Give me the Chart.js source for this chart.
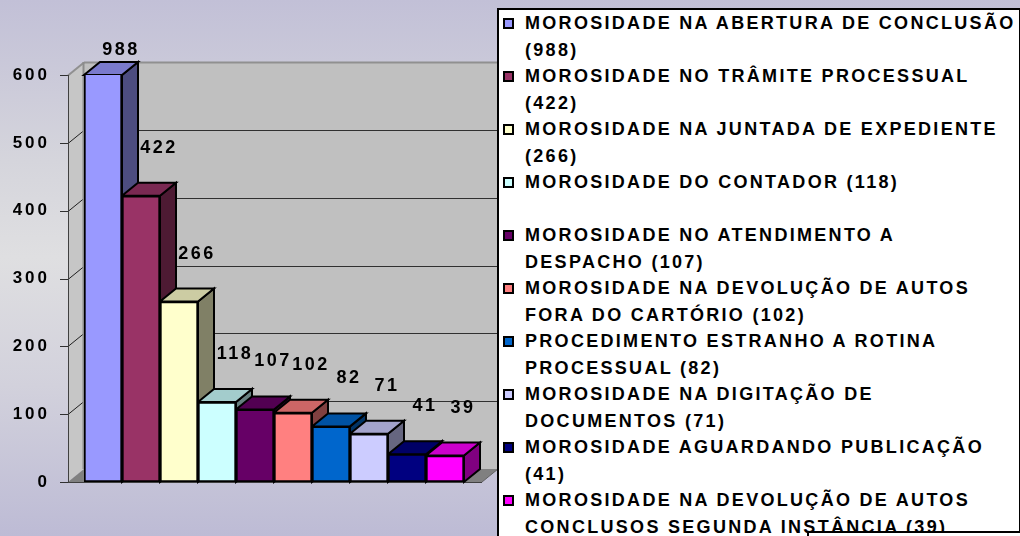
<!DOCTYPE html>
<html>
<head>
<meta charset="utf-8">
<script src="https://cdn.jsdelivr.net/npm/chart.js@4.4.0/dist/chart.umd.min.js"></script>
<style>
  body { margin: 0; }
  #fundo {
    position: relative; width: 1020px; height: 536px; overflow: hidden;
    background: linear-gradient(180deg, #c2c0d7 0%, #d5d5dc 30%, #dfdfe1 48%, #d2d1dc 72%, #bdbbd5 100%);
    font-family: "Liberation Sans", Arial, sans-serif;
  }
  #grafico { position: absolute; left: 0; top: 0; width: 1020px; height: 536px; }
  #legenda {
    position: absolute; left: 497px; top: 8px; width: 523px; height: 560px;
    box-sizing: border-box; background: #fff;
    border-left: 2px solid #000; border-top: 2px solid #000; border-right: 1px solid #000;
  }
  #legenda .item {
    position: relative; height: 53px; padding-left: 26px; padding-right: 2px;
    font-weight: bold; font-size: 18px; letter-spacing: 2.3px; line-height: 26.5px; color: #000;
  }
  #legenda .marca {
    position: absolute; left: 4px; top: 8px; width: 11px; height: 11px;
    box-sizing: border-box; border: 2px solid #000;
  }
  #caixa {
    position: absolute; left: 807px; top: 531px; width: 220px; height: 20px;
    background: #fff; border-left: 2px solid #000; border-top: 2px solid #000;
  }
</style>
</head>
<body>
<div id="fundo">
  <div id="grafico"><canvas id="myChart"></canvas></div>
  <div id="legenda"></div>
  <div id="caixa"></div>
</div>
<script>
// dados do grafico
const categorias = [
  'MOROSIDADE NA ABERTURA DE CONCLUSÃO',
  'MOROSIDADE NO TRÂMITE PROCESSUAL',
  'MOROSIDADE NA JUNTADA DE EXPEDIENTE',
  'MOROSIDADE DO CONTADOR',
  'MOROSIDADE NO ATENDIMENTO A DESPACHO',
  'MOROSIDADE NA DEVOLUÇÃO DE AUTOS FORA DO CARTÓRIO',
  'PROCEDIMENTO ESTRANHO A ROTINA PROCESSUAL',
  'MOROSIDADE NA DIGITAÇÃO DE DOCUMENTOS',
  'MOROSIDADE AGUARDANDO PUBLICAÇÃO',
  'MOROSIDADE NA DEVOLUÇÃO DE AUTOS CONCLUSOS SEGUNDA INSTÂNCIA'
];
const valores = [988, 422, 266, 118, 107, 102, 82, 71, 41, 39];
const ticksY = [0, 100, 200, 300, 400, 500, 600];

// cores das barras (face da frente)
const cores = ['#9999ff', '#993366', '#ffffcc', '#ccffff', '#660066',
               '#ff8080', '#0066cc', '#ccccff', '#000080', '#ff00ff'];

// profundidade do efeito 3d
const DX = 16, DY = 13;

function sombra(hex, f) {
  const n = parseInt(hex.slice(1), 16);
  const r = Math.round(((n >> 16) & 255) * f);
  const g = Math.round(((n >> 8) & 255) * f);
  const b = Math.round((n & 255) * f);
  return `rgb(${r},${g},${b})`;
}

function poligono(ctx, pts, fill, stroke, lw) {
  ctx.beginPath();
  ctx.moveTo(pts[0][0], pts[0][1]);
  for (let i = 1; i < pts.length; i++) ctx.lineTo(pts[i][0], pts[i][1]);
  ctx.closePath();
  if (fill) { ctx.fillStyle = fill; ctx.fill(); }
  if (stroke) { ctx.strokeStyle = stroke; ctx.lineWidth = lw || 1; ctx.stroke(); }
}

function linha(ctx, x1, y1, x2, y2, cor, lw) {
  ctx.beginPath();
  ctx.moveTo(x1, y1);
  ctx.lineTo(x2, y2);
  ctx.strokeStyle = cor;
  ctx.lineWidth = lw;
  ctx.stroke();
}

const efeito3d = {
  id: 'efeito3d',
  beforeDraw(chart) {
    chart.ctx.letterSpacing = '3px';
  },
  beforeDatasetsDraw(chart) {
    const ctx = chart.ctx;
    const a = chart.chartArea;
    const y = chart.scales.y;
    const frente = a.left - DX;      // eixo da frente
    const direita = a.right + 18;    // fim do piso
    ctx.save();

    // parede do fundo
    ctx.fillStyle = '#c0c0c0';
    ctx.fillRect(a.left, a.top - DY, direita + DX - a.left, a.bottom - a.top);
    // parede lateral
    poligono(ctx, [[frente, a.top], [a.left, a.top - DY], [a.left, a.bottom - DY], [frente, a.bottom]], '#c6c6c6');
    // piso
    poligono(ctx, [[frente, a.bottom], [direita, a.bottom], [direita + DX, a.bottom - DY], [a.left, a.bottom - DY]], '#808080');

    // linhas de grade
    y.ticks.forEach(t => {
      const py = Math.round(y.getPixelForValue(t.value)) + 0.5;
      linha(ctx, frente - 8, py, frente, py, '#303030', 1);
      if (t.value === 0) return;
      if (t.value === y.max) {
        linha(ctx, frente, py, a.left, py - DY, '#909090', 2);
        linha(ctx, a.left, py - DY, direita + DX, py - DY, '#909090', 2);
      } else {
        linha(ctx, frente, py, a.left, py - DY, '#202020', 1);
        linha(ctx, a.left, py - DY, direita + DX, py - DY, '#303030', 1);
      }
    });
    // arestas
    linha(ctx, a.left - 0.5, a.top - DY, a.left - 0.5, a.bottom - DY, '#8c8c8c', 2);
    linha(ctx, frente + 0.5, a.top, frente + 0.5, a.bottom, '#404040', 1);
    linha(ctx, frente, a.bottom + 0.5, direita, a.bottom + 0.5, '#404040', 1);
    linha(ctx, direita, a.bottom, direita + DX, a.bottom - DY, '#606060', 1);

    // faces lateral e superior das barras
    const meta = chart.getDatasetMeta(0);
    meta.data.forEach((barra, i) => {
      const topo = Math.max(barra.y, a.top);
      const e = barra.x - barra.width / 2;
      const d = barra.x + barra.width / 2;
      poligono(ctx, [[d, topo], [d + DX, topo - DY], [d + DX, barra.base - DY], [d, barra.base]],
        sombra(cores[i], 0.5), '#000', 2);
      poligono(ctx, [[e, topo], [d, topo], [d + DX, topo - DY], [e + DX, topo - DY]],
        sombra(cores[i], 0.8), '#000', 2);
    });
    ctx.restore();
  },
  afterDatasetsDraw(chart) {
    // rotulos de valor
    const ctx = chart.ctx;
    const a = chart.chartArea;
    const meta = chart.getDatasetMeta(0);
    ctx.save();
    ctx.letterSpacing = '2.5px';
    ctx.font = 'bold 18px "Liberation Sans", Arial, sans-serif';
    ctx.fillStyle = '#000';
    ctx.textAlign = 'center';
    ctx.textBaseline = 'middle';
    meta.data.forEach((barra, i) => {
      const py = barra.y < a.top ? a.top - 25 : barra.y - 48;
      ctx.fillText(String(valores[i]), barra.x + 18, py);
    });
    ctx.restore();
  }
};

const data = {
  labels: categorias,
  datasets: [{
    data: valores,
    backgroundColor: cores,
    borderColor: '#000',
    borderWidth: 2,
    borderSkipped: false,
    categoryPercentage: 1,
    barPercentage: 1
  }]
};

const config = {
  type: 'bar',
  data: data,
  options: {
    responsive: true,
    maintainAspectRatio: false,
    animation: false,
    layout: { padding: { left: 0, top: 75, right: 556, bottom: 54 } },
    plugins: { legend: { display: false }, tooltip: { enabled: false } },
    scales: {
      x: { display: false },
      y: {
        min: 0,
        max: 600,
        afterFit: s => { s.width = 84; },
        afterBuildTicks: s => { s.ticks = ticksY.map(v => ({ value: v })); },
        border: { display: false },
        grid: { display: false, drawTicks: false },
        ticks: {
          color: '#000',
          padding: 34,
          font: { family: '"Liberation Sans", Arial, sans-serif', size: 17, weight: 'bold' }
        }
      }
    }
  },
  plugins: [efeito3d]
};

const myChart = new Chart(document.getElementById('myChart'), config);

// legenda em html
const legenda = document.getElementById('legenda');
categorias.forEach((c, i) => {
  const item = document.createElement('div');
  item.className = 'item';
  item.innerHTML = `<span class="marca" style="background:${cores[i]}"></span>${c} (${valores[i]})`;
  legenda.appendChild(item);
});
</script>
</body>
</html>
